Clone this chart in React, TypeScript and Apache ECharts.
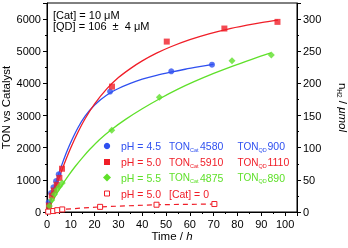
import React, { useEffect, useRef } from 'react';
import * as echarts from 'echarts';

const FONT = '"Liberation Sans", Arial, Helvetica, sans-serif';
const BLUE = '#2f50f0';
const RED = '#f01e28';
const GREEN = '#5fe02a';

// measured points: [time h, TON]
const bluePts = [[0.7, 300], [1.7, 590], [2.7, 770], [3.8, 960], [4.9, 1170], [26.5, 3746], [52.2, 4375], [69.3, 4582]];
const redPts = [[0.8, 200], [2.0, 510], [2.9, 670], [4.1, 850], [5.2, 1060], [6.3, 1345], [27.3, 3900], [50.3, 5300], [74.5, 5706], [96.8, 5913]];
const greenPts = [[1.0, 190], [2.0, 370], [3.1, 550], [4.1, 690], [5.2, 790], [6.4, 900], [27.2, 2540], [47.2, 3570], [77.7, 4706], [94.2, 4882]];
// fitted curves
const blueFit = [[0, 0], [2, 500], [4, 980], [6, 1420], [8, 1820], [10, 2170], [13, 2620], [16, 2980], [20, 3330], [25, 3630], [30, 3840], [35, 4000], [40, 4130], [46, 4250], [52, 4350], [58, 4440], [64, 4520], [70, 4595]];
const redFit = [[0, 0], [2, 420], [4, 840], [6, 1250], [8, 1640], [10, 2000], [13, 2480], [16, 2900], [20, 3360], [25, 3820], [30, 4180], [35, 4460], [40, 4700], [46, 4940], [52, 5140], [60, 5360], [68, 5540], [76, 5690], [84, 5810], [90, 5890], [97, 5970]];
const greenFit = [[0, 0], [3, 420], [6, 800], [9, 1130], [12, 1430], [15, 1700], [18, 1950], [22, 2250], [27, 2560], [33, 2880], [40, 3210], [47.5, 3530], [55, 3820], [62, 4060], [70, 4310], [78, 4540], [86, 4750], [94, 4950]];
// control, n_H2 in µmol (right axis)
const controlPts = [[0.5, 0.6], [2.6, 1.5], [4.3, 2.8], [6.4, 4.0], [22.3, 8.0], [46, 11.3], [70.3, 12.4]];

const legendRows = [
  { color: BLUE, symbol: 'circle', ph: 'pH = 4.5', cat: '4580', qd: '900' },
  { color: RED, symbol: 'rect', ph: 'pH = 5.0', cat: '5910', qd: '1110' },
  { color: GREEN, symbol: 'diamond', ph: 'pH = 5.5', cat: '4875', qd: '890' },
];

export default function App() {
  const ref = useRef<HTMLDivElement>(null);
  useEffect(() => {
    if (!ref.current) return;
    const chart = echarts.init(ref.current, null, { renderer: 'svg' });
    const fs = 11;
    const lfs = 10.5;
    const txt = { fontFamily: FONT, fontSize: fs, color: '#000' };
    const subRich = (color: string) => ({
      s: { fontFamily: FONT, fontSize: 5.5, fill: color, padding: [7, 0, 0, 0] },
    });
    const graphics: any[] = [
      { type: 'text', left: 53, top: 9, style: { text: '[Cat] = 10 \u03bcM', font: `${fs}px ${FONT}`, fill: '#000' } },
      { type: 'text', left: 53, top: 20.5, style: { text: '[QD] = 106  \u00b1  4 \u03bcM', font: `${fs}px ${FONT}`, fill: '#000' } },
    ];
    const rowY = [146, 162, 177.5, 193.5];
    legendRows.forEach((r, i) => {
      const y = rowY[i];
      if (r.symbol === 'circle') graphics.push({ type: 'circle', shape: { cx: 107, cy: y, r: 3.2 }, style: { fill: r.color } });
      if (r.symbol === 'rect') graphics.push({ type: 'rect', shape: { x: 104, y: y - 3, width: 6, height: 6 }, style: { fill: r.color } });
      if (r.symbol === 'diamond') graphics.push({ type: 'polygon', shape: { points: [[107, y - 4], [111, y], [107, y + 4], [103, y]] }, style: { fill: r.color } });
      graphics.push({ type: 'text', x: 121, y, style: { text: r.ph, font: `${lfs}px ${FONT}`, fill: r.color, verticalAlign: 'middle' } });
      graphics.push({ type: 'text', x: 169, y, style: { text: 'TON{s|Cat}', font: `10px ${FONT}`, fill: r.color, verticalAlign: 'middle', rich: subRich(r.color) } });
      graphics.push({ type: 'text', x: 200, y, style: { text: r.cat, font: `${lfs}px ${FONT}`, fill: r.color, verticalAlign: 'middle' } });
      graphics.push({ type: 'text', x: 237.5, y, style: { text: 'TON{s|QD}', font: `10px ${FONT}`, fill: r.color, verticalAlign: 'middle', rich: subRich(r.color) } });
      graphics.push({ type: 'text', x: 267.5, y, style: { text: r.qd, font: `${lfs}px ${FONT}`, fill: r.color, verticalAlign: 'middle' } });
    });
    graphics.push({ type: 'rect', shape: { x: 104.5, y: rowY[3] - 2.5, width: 5, height: 5 }, style: { fill: '#fff', stroke: RED, lineWidth: 1 } });
    graphics.push({ type: 'text', x: 121, y: rowY[3], style: { text: 'pH = 5.0', font: `${lfs}px ${FONT}`, fill: RED, verticalAlign: 'middle' } });
    graphics.push({ type: 'text', x: 169, y: rowY[3], style: { text: '[Cat] = 0', font: `${lfs}px ${FONT}`, fill: RED, verticalAlign: 'middle' } });

    const axisCommon = {
      axisLine: { show: true, lineStyle: { color: '#000', width: 1 } },
      axisTick: { show: true, inside: false, length: 4, lineStyle: { color: '#000' } },
      minorTick: { show: true, splitNumber: 2, length: 2, lineStyle: { color: '#000' } },
      splitLine: { show: false },
      minorSplitLine: { show: false },
      axisLabel: { ...txt, margin: 6, showMaxLabel: false, formatter: (v: number) => String(v) },
      nameTextStyle: { fontFamily: FONT, fontSize: 11.5, color: '#000' },
      nameLocation: 'middle' as const,
      nameMoveOverlap: false,
    };
    const fitLine = (data: number[][], color: string) => ({
      type: 'line', data, showSymbol: false, smooth: 0.3,
      lineStyle: { color, width: 1.3 }, itemStyle: { color }, z: 2,
    });
    const scatter = (data: number[][], color: string, symbol: string, size: number) => ({
      type: 'scatter', data, symbol, symbolSize: size, itemStyle: { color }, z: 3,
    });
    chart.setOption({
      animation: false,
      grid: { left: 47, right: 51, top: 3, bottom: 36, outerBoundsMode: 'none', containLabel: false, show: true, borderColor: '#000', borderWidth: 1, backgroundColor: 'transparent' },
      xAxis: {
        ...axisCommon, type: 'value', min: 0, max: 105, interval: 10,
        name: 'Time / {i|h}', nameGap: 18,
        nameTextStyle: { ...axisCommon.nameTextStyle, rich: { i: { fontFamily: FONT, fontSize: 11.5, fontStyle: 'italic' } } },
      },
      yAxis: [
        {
          ...axisCommon, type: 'value', min: 0, max: 6500, interval: 1000,
          name: 'TON vs Catalyst', nameGap: 35,
        },
        {
          ...axisCommon, type: 'value', position: 'right', min: 0, max: 325, interval: 50,
          name: 'n{sub|H2} / {i|\u03bcmol}', nameGap: 39, nameRotate: -90,
          nameTextStyle: {
            ...axisCommon.nameTextStyle,
            rich: {
              sub: { fontFamily: FONT, fontSize: 6.5, padding: [7, 0, 0, 0] },
              i: { fontFamily: FONT, fontSize: 11.5, fontStyle: 'italic' },
            },
          },
        },
      ],
      series: [
        fitLine(blueFit, BLUE),
        fitLine(redFit, RED),
        fitLine(greenFit, GREEN),
        scatter(bluePts, BLUE, 'circle', 6),
        scatter(redPts, RED, 'rect', 6),
        scatter(greenPts, GREEN, 'diamond', 7),
        {
          type: 'line', yAxisIndex: 1, data: controlPts, symbol: 'rect', symbolSize: 5, showSymbol: true,
          lineStyle: { color: RED, width: 1.2, type: [5, 4] },
          itemStyle: { color: '#fff', borderColor: RED, borderWidth: 1 }, z: 3,
        },
      ],
      graphic: graphics,
    });
    return () => chart.dispose();
  }, []);
  return <div ref={ref} style={{ position: 'fixed', left: 0, top: 0, width: 348, height: 248 }} />;
}
